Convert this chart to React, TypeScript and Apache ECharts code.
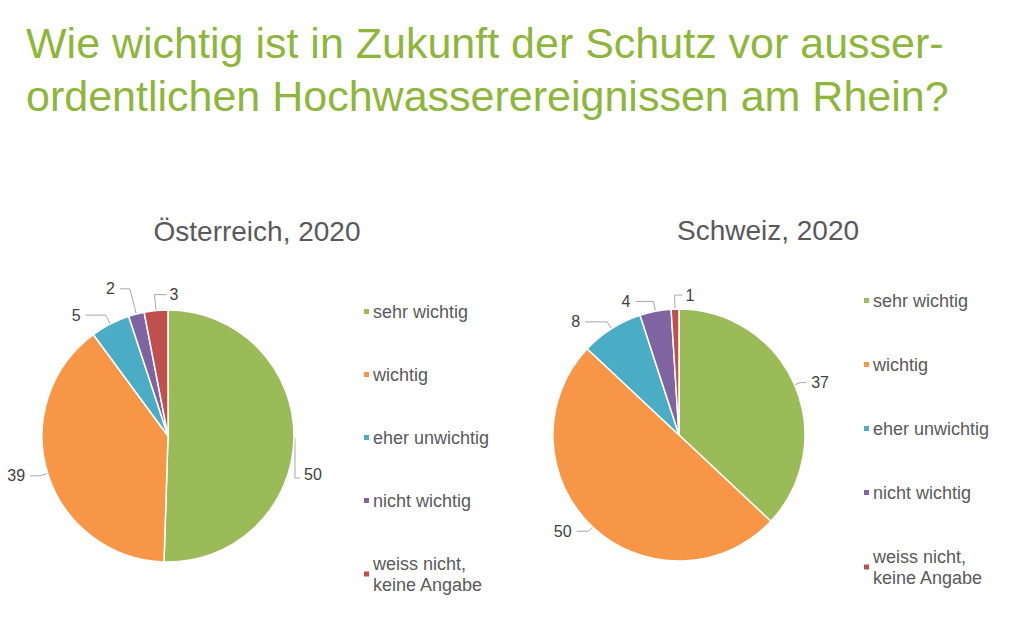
import React, { useEffect, useRef } from "react";
import * as echarts from "echarts";

const categories = ["sehr wichtig", "wichtig", "eher unwichtig", "nicht wichtig", "weiss nicht,\nkeine Angabe"];
const austriaValues = [50, 39, 5, 2, 3];
const swissValues = [37, 50, 8, 4, 1];
const colors = ["#9BBB59", "#F79646", "#4BACC6", "#8064A2", "#C0504D"];
const titleText = "Wie wichtig ist in Zukunft der Schutz vor ausser-\nordentlichen Hochwasserereignissen am Rhein?";
const austriaTitle = "Österreich, 2020";
const swissTitle = "Schweiz, 2020";

// leader line lengths per slice [length, length2]
const austriaLeaders = [[8, 10], [8, 10], [10, 20], [26, 10], [16, 12]];
const swissLeaders = [[6, 6], [6, 12], [8, 22], [10, 18], [14, 8]];

const FONT = "'Liberation Sans', Arial, sans-serif";

function pieSeries(values: number[], leaders: number[][], center: [number, number], dropFirst: boolean) {
  return {
    type: "pie",
    center,
    radius: 126,
    startAngle: 90,
    clockwise: true,
    avoidLabelOverlap: false,
    itemStyle: { borderColor: "#ffffff", borderWidth: 1.5 },
    label: {
      show: true,
      position: "outside",
      formatter: "{c}",
      color: "#404040",
      fontSize: 16,
      fontFamily: FONT,
      overflow: "none",
    },
    labelLine: {
      show: true,
      length: 8,
      length2: 12,
      lineStyle: { color: "#A6A6A6", width: 1 },
    },
    labelLayout: (params: any) => {
      const pts = params.labelLinePoints;
      if (!pts || pts.length < 3) return {};
      const p0 = pts[0];
      const p1 = pts[1];
      const p2 = pts[2];
      if (dropFirst && params.dataIndex === 0) {
        // Excel style: leader drops vertically, label to the right
        const a = [p0[0] + 1, p0[1]];
        const b = [p0[0] + 1, p0[1] + 40];
        const c = [p0[0] + 6, p0[1] + 40];
        return {
          x: c[0] + 4,
          y: c[1] - 3,
          align: "left",
          verticalAlign: "middle",
          labelLinePoints: [a, b, c],
        };
      }
      if (params.dataIndex === 4) {
        // small last slice: label to the right of its leader
        const n = [p1[0] + Math.abs(p1[0] - p2[0]), p1[1]];
        return {
          x: n[0] + 3,
          y: n[1],
          align: "left",
          verticalAlign: "middle",
          labelLinePoints: [p0, p1, n],
        };
      }
      return {};
    },
    emphasis: { disabled: true },
    data: categories.map((name, i) => ({
      name,
      value: values[i],
      itemStyle: { color: colors[i] },
      labelLine: { length: leaders[i][0], length2: leaders[i][1] },
    })),
  };
}

function legend(left: number, top: number, gap: number) {
  return {
    orient: "vertical",
    left,
    top,
    padding: 0,
    icon: "rect",
    itemWidth: 7,
    itemHeight: 7,
    itemGap: gap,
    selectedMode: false,
    textStyle: { color: "#595959", fontSize: 18, fontFamily: FONT, lineHeight: 21, padding: [0, 0, 0, -2] },
    data: categories,
  };
}

export default function App() {
  const ref = useRef<HTMLDivElement>(null);
  useEffect(() => {
    document.body.style.margin = "0";
    const chart = echarts.init(ref.current!, null, { renderer: "svg" });
    chart.setOption({
      animation: false,
      backgroundColor: "#ffffff",
      title: [
        {
          text: titleText,
          left: 26,
          top: 16,
          padding: 0,
          textStyle: { color: "#8EB63A", fontSize: 43, fontWeight: "normal", fontFamily: FONT, lineHeight: 53 },
        },
        {
          text: austriaTitle,
          left: 257,
          top: 217,
          padding: 0,
          textAlign: "center",
          textStyle: { color: "#595959", fontSize: 28, fontWeight: "normal", fontFamily: FONT },
        },
        {
          text: swissTitle,
          left: 768,
          top: 216,
          padding: 0,
          textAlign: "center",
          textStyle: { color: "#595959", fontSize: 28, fontWeight: "normal", fontFamily: FONT },
        },
      ],
      legend: [legend(362, 301, 42), legend(862, 290, 43)],
      series: [
        pieSeries(austriaValues, austriaLeaders, [168, 436], true),
        pieSeries(swissValues, swissLeaders, [679, 435], false),
      ],
    });
    return () => chart.dispose();
  }, []);
  return <div ref={ref} style={{ width: 1024, height: 620 }} />;
}
